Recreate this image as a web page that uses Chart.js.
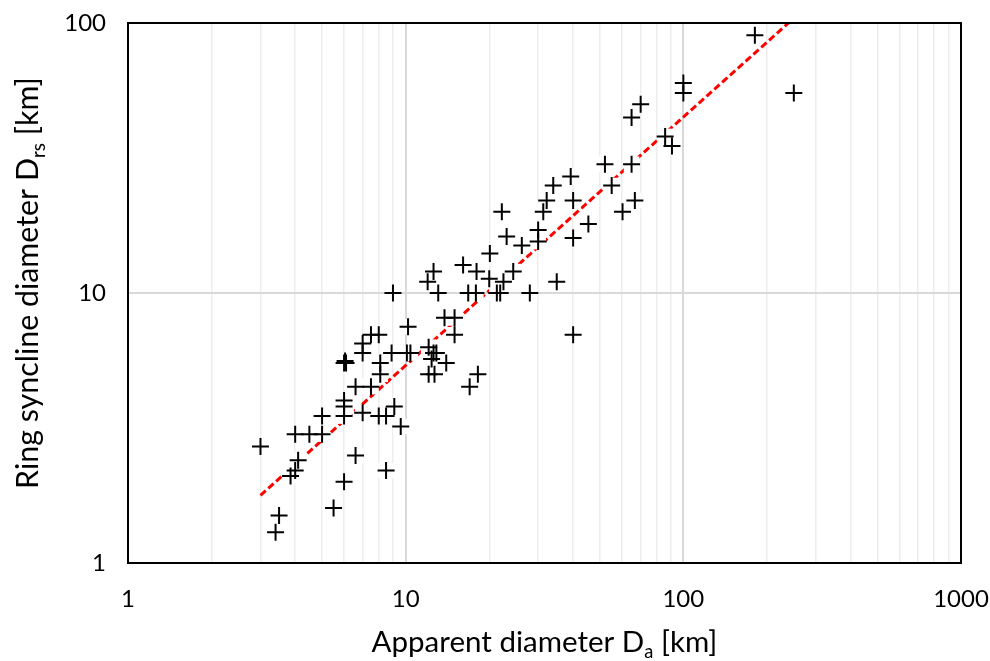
<!DOCTYPE html>
<html>
<head>
<meta charset="utf-8">
<script src="https://cdn.jsdelivr.net/npm/chart.js@4/dist/chart.umd.min.js"></script>
<style>
  html, body { margin: 0; padding: 0; background: #ffffff; }
  #wrap { width: 990px; height: 661px; }
</style>
</head>
<body>
<div id="wrap"><canvas id="chart" width="990" height="661"></canvas></div>
<script>
// Apparent crater diameter D_a (km) and ring syncline diameter D_rs (km)
const apparentDiameter = [
  3.0, 3.5, 3.4, 4.0, 4.1, 4.0, 3.85, 4.5, 5.0, 5.0,
  6.0, 5.5, 6.6, 7.0, 8.0, 8.5, 9.1, 9.6, 8.5, 6.0,
  6.0, 6.0, 6.0, 6.05, 6.1, 6.6, 7.5, 8.1, 8.1, 7.0,
  7.0, 7.5, 8.0, 8.9, 10.1, 10.4, 10.2, 9.0,
  12.1, 12.6, 12.9, 12.4, 14.0, 12.1, 12.7, 13.8, 15.0, 15.0,
  18.2, 17.0, 12.6, 12.0, 13.1, 16.1, 18.0, 20.1, 16.8, 17.9,
  20.0, 21.3, 21.9, 22.5, 24.4, 23.1, 22.2, 26.2, 30.0, 30.0,
  28.0, 35.0, 40.1, 40.1, 31.3, 32.2, 34.0, 39.3, 40.1, 45.5,
  52.2, 55.2, 65.1, 60.4, 66.9, 65.1, 70.2, 100, 100, 86,
  91, 181, 250
];
const synclineDiameter = [
  2.7, 1.5, 1.3, 3.0, 2.4, 2.2, 2.1, 3.0, 3.0, 3.5,
  2.0, 1.6, 2.5, 3.6, 3.5, 3.5, 3.8, 3.2, 2.2, 4.0,
  3.8, 3.5, 5.5, 5.6, 5.5, 4.5, 4.5, 5.5, 5.0, 6.0,
  6.5, 7.0, 7.0, 6.0, 6.0, 6.0, 7.5, 10,
  6.3, 6.0, 6.0, 5.7, 5.5, 5.0, 5.0, 8.1, 8.1, 7.0,
  5.0, 4.5, 12, 11, 10, 12.7, 12, 14, 10, 10,
  11.3, 10, 10, 11, 12, 16.2, 20, 15, 15.5, 17.1,
  10, 11, 16, 7.0, 20, 22, 25, 27, 22, 18,
  30, 25, 30, 20, 22, 44.7, 50, 60, 55, 38,
  35, 90, 55
];

// End points of the power-law trend line
const trendX = [3.0, 239];
const trendY = [1.78, 100];

// Labelled decades on each axis
const xDecades = [1, 10, 100, 1000];
const yDecades = [1, 10, 100];

const FONT = 'Lato, "Open Sans", "Liberation Sans", sans-serif';

const points = apparentDiameter.map((x, i) => ({ x: x, y: synclineDiameter[i] }));
const trend = trendX.map((x, i) => ({ x: x, y: trendY[i] }));

const isDecade = v => Math.abs(Math.log10(v) - Math.round(Math.log10(v))) < 1e-6;

// Gridline ticks: every integer multiple within each decade
function decadeTicks(decades) {
  const out = [];
  for (let d = 0; d < decades.length - 1; d++) {
    for (let m = 1; m < 10; m++) out.push({ value: decades[d] * m });
  }
  out.push({ value: decades[decades.length - 1] });
  return out;
}

// Frame around the plotting area
const frame = {
  id: 'frame',
  afterDatasetsDraw(chart) {
    const c = chart.ctx, a = chart.chartArea;
    c.save();
    c.strokeStyle = '#000000';
    c.lineWidth = 2;
    c.strokeRect(a.left, a.top, a.right - a.left, a.bottom - a.top);
    c.restore();
  }
};

// Axis titles with subscripts
function drawTitle(c, parts, cx, baseY, rotate, targetWidth) {
  let size = 30;
  const measure = s => {
    c.font = s + 'px ' + FONT;
    const w0 = c.measureText(parts[0]).width;
    const w2 = c.measureText(parts[2]).width;
    c.font = (s * 0.62) + 'px ' + FONT;
    const w1 = c.measureText(parts[1]).width;
    return [w0, w1, w2];
  };
  let w = measure(size);
  size = size * targetWidth / (w[0] + w[1] + w[2]);
  w = measure(size);
  const total = w[0] + w[1] + w[2];
  c.save();
  c.fillStyle = '#000000';
  c.textBaseline = 'alphabetic';
  c.textAlign = 'left';
  c.translate(cx, baseY);
  if (rotate) c.rotate(-Math.PI / 2);
  let x = -total / 2;
  c.font = size + 'px ' + FONT;
  c.fillText(parts[0], x, 0);
  x += w[0];
  c.font = (size * 0.62) + 'px ' + FONT;
  c.fillText(parts[1], x, size * 0.22);
  x += w[1];
  c.font = size + 'px ' + FONT;
  c.fillText(parts[2], x, 0);
  c.restore();
}

const axisTitles = {
  id: 'axisTitles',
  afterDraw(chart) {
    const c = chart.ctx, a = chart.chartArea;
    drawTitle(c, ['Apparent diameter D', 'a', ' [km]'], (a.left + a.right) / 2, 652, false, 346);
    drawTitle(c, ['Ring syncline diameter D', 'rs', ' [km]'], 38, (a.top + a.bottom) / 2 - 10, true, 412);
  }
};

new Chart(document.getElementById('chart'), {
  type: 'scatter',
  data: {
    datasets: [
      {
        label: 'Craters',
        data: points,
        pointStyle: 'cross',
        pointRadius: 8.5,
        pointHoverRadius: 8.5,
        pointBorderWidth: 2,
        borderColor: '#000000',
        backgroundColor: '#000000',
        order: 0
      },
      {
        label: 'Marker backing',
        data: points,
        pointStyle: 'rect',
        pointRadius: 11,
        pointHoverRadius: 11,
        borderWidth: 0,
        pointBorderWidth: 0,
        backgroundColor: '#ffffff',
        order: 1
      },
      {
        type: 'line',
        label: 'Power-law fit',
        data: trend,
        borderColor: '#ff0000',
        borderWidth: 3,
        borderDash: [7, 3.5],
        pointRadius: 0,
        fill: false,
        order: 2
      }
    ]
  },
  options: {
    responsive: false,
    animation: false,
    events: [],
    layout: { padding: { left: 0, right: 29, top: 23, bottom: 0 } },
    plugins: { legend: { display: false }, tooltip: { enabled: false } },
    scales: {
      x: {
        type: 'logarithmic',
        min: xDecades[0],
        max: xDecades[xDecades.length - 1],
        afterBuildTicks: s => { s.ticks = decadeTicks(xDecades); },
        afterFit: s => { s.height = 98; s.paddingLeft = 0; s.paddingRight = 0; },
        border: { display: false },
        grid: {
          drawTicks: false,
          color: ctx => isDecade(ctx.tick.value) ? '#d9d9d9' : '#eeeeee',
          lineWidth: ctx => isDecade(ctx.tick.value) ? 2 : 1.5
        },
        ticks: {
          autoSkip: false,
          maxRotation: 0,
          padding: 22,
          color: '#000000',
          font: { family: FONT, size: 24 },
          callback: v => isDecade(v) ? String(Math.round(v)) : ''
        }
      },
      y: {
        type: 'logarithmic',
        min: yDecades[0],
        max: yDecades[yDecades.length - 1],
        afterBuildTicks: s => { s.ticks = decadeTicks(yDecades); },
        afterFit: s => { s.width = 128; s.paddingTop = 0; s.paddingBottom = 0; },
        border: { display: false },
        grid: {
          drawTicks: false,
          color: ctx => isDecade(ctx.tick.value) ? '#d9d9d9' : 'rgba(0,0,0,0)',
          lineWidth: 2
        },
        ticks: {
          autoSkip: false,
          padding: 22,
          color: '#000000',
          font: { family: FONT, size: 24 },
          callback: v => isDecade(v) ? String(Math.round(v)) : ''
        }
      }
    }
  },
  plugins: [frame, axisTitles]
});
</script>
</body>
</html>
